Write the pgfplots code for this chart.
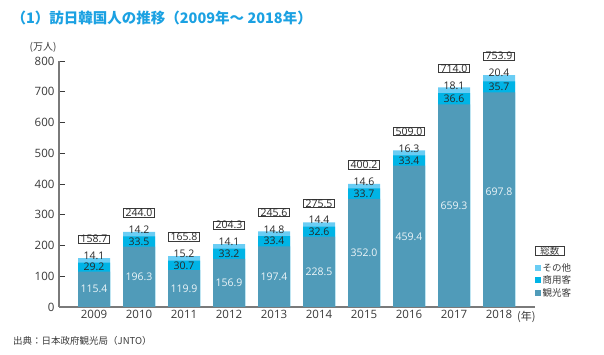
\documentclass[border=0pt]{standalone}
\usepackage{fontspec}
\setmainfont{Open Sans}
\newfontfamily\jp{Noto Sans CJK JP}
\usepackage{pgfplots}
\usepackage{pgfplotstable}
\pgfplotsset{compat=1.18}
\definecolor{kanko}{HTML}{509BB9}
\definecolor{shoyo}{HTML}{00B4E6}
\definecolor{sonota}{HTML}{6ACDF4}
\definecolor{titlec}{HTML}{1BA1E2}
\definecolor{txt}{HTML}{3A3A3A}
\definecolor{axc}{HTML}{7A7A7A}
\pgfplotstableread{
x year k s o t ky
0 2009 115.4 29.2 14.1 158.7 57.7
1 2010 196.3 33.5 14.2 244.0 98.2
2 2011 119.9 30.7 15.2 165.8 60.0
3 2012 156.9 33.2 14.1 204.3 78.5
4 2013 197.4 33.4 14.8 245.6 98.7
5 2014 228.5 32.6 14.4 275.5 114.3
6 2015 352.0 33.7 14.6 400.2 176.0
7 2016 459.4 33.4 16.3 509.0 229.7
8 2017 659.3 36.6 18.1 714.0 329.7
9 2018 697.8 35.7 20.4 753.9 375.0
}\data
\begin{document}
\begin{tikzpicture}
\useasboundingbox (0,0) rectangle (604pt,355pt);
\begin{axis}[
  at={(59pt,48pt)}, anchor=south west,
  scale only axis, width=476pt, height=246pt,
  xmin=-0.778, xmax=9.8, ymin=0, ymax=800,
  enlargelimits=false, clip=false,
  axis x line*=bottom, axis y line*=left,
  axis line style={-, draw=axc, line width=1.3pt},
  xtick=data, xticklabels={2009,2010,2011,2012,2013,2014,2015,2016,2017,2018},
  x tick style={draw=none},
  ytick={0,100,...,800},
  tick align=inside, major tick length=6pt,
  y tick style={draw=txt, line width=0.9pt},
  /pgf/number format/assume math mode=true,
  ticklabel style={font=\fontsize{11.5}{13}\selectfont, text=txt},
  yticklabel style={xshift=-1pt},
  legend style={draw=none, fill=none, at={(1.0,0.185)}, anchor=north west,
    font=\jp\fontsize{9.5}{10}\selectfont, text=txt, row sep=0pt,
    inner sep=0pt, nodes={inner sep=1.5pt}},
  legend cell align=left,
  legend image code/.code={\fill[#1] (0pt,-3pt) rectangle (6pt,3pt);},
]
\addplot[ybar, bar shift=0pt, bar width=32pt, fill=sonota, draw=none] table[x=x, y=t] {\data};
\addlegendentry{その他}
\addplot[ybar, bar shift=0pt, bar width=32pt, fill=shoyo, draw=none] table[x=x, y expr=\thisrow{k}+\thisrow{s}] {\data};
\addlegendentry{商用客}
\addplot[ybar, bar shift=0pt, bar width=32pt, fill=kanko, draw=none] table[x=x, y=k] {\data};
\addlegendentry{観光客}
% labels
\addplot[draw=none, mark=none, forget plot, nodes near coords, point meta=explicit symbolic,
  nodes near coords style={anchor=center, text=white!90!kanko, font=\fontsize{10.5}{12}\selectfont}]
  table[x=x, y=ky, meta=k] {\data};
\addplot[draw=none, mark=none, forget plot, nodes near coords, point meta=explicit symbolic,
  nodes near coords style={anchor=center, text=txt!70!black, font=\fontsize{10.5}{12}\selectfont}]
  table[x=x, y expr=\thisrow{k}+\thisrow{s}/2, meta=s] {\data};
\addplot[draw=none, mark=none, forget plot, nodes near coords, point meta=explicit symbolic,
  nodes near coords style={anchor=center, yshift=2pt, text=txt!70!black, font=\fontsize{10.5}{12}\selectfont}]
  table[x=x, y=t, meta=o] {\data};
\addplot[draw=none, mark=none, forget plot, nodes near coords, point meta=explicit symbolic,
  nodes near coords style={anchor=center, yshift=19pt, draw=txt, line width=0.8pt, fill=white,
    inner xsep=2pt, inner ysep=0.3pt, text=txt!70!black, font=\fontsize{10.5}{12}\selectfont}]
  table[x=x, y=t, meta=t] {\data};
\end{axis}
\node[anchor=west, text=titlec, font=\jp\fontsize{14.5}{16}\selectfont\bfseries] at (8pt,337pt) {（1）訪日韓国人の推移（2009年～ 2018年）};
\node[text=txt, font=\jp\fontsize{10}{12}\selectfont] at (43pt,308pt) {(万人)};
\node[anchor=west, text=txt, font=\jp\fontsize{11}{12}\selectfont, inner sep=0pt] at (517pt,38pt) {(年)};
\node[anchor=west, text=txt, font=\jp\fontsize{9.5}{10}\selectfont, inner sep=0pt] at (13pt,14pt) {出典：日本政府観光局（JNTO）};
\node[anchor=west, draw=txt, line width=0.8pt, inner xsep=5pt, inner ysep=0.3pt, text=txt, font=\jp\fontsize{9.5}{10}\selectfont] at (535pt,104pt) {総数};
\end{tikzpicture}
\end{document}
